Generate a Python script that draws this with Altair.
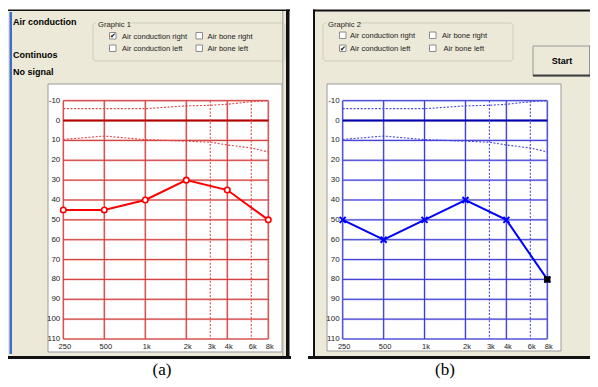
import altair as alt
import pandas as pd

# ---------------- data ----------------
freqs = [250, 500, 1000, 2000, 4000, 8000]
right_ear_db = [45, 45, 40, 30, 35, 50]      # Graphic 1: air conduction right
left_ear_db = [50, 60, 50, 40, 50, 80]       # Graphic 2: air conduction left
grid_db = [-10, 0, 10, 20, 30, 40, 50, 60, 70, 80, 90, 100, 110]
solid_freqs = [250, 500, 1000, 2000, 4000, 8000]
dotted_freqs = [3000, 6000]
tick_freqs = [250, 500, 1000, 2000, 3000, 4000, 6000, 8000]
tick_labels = ["250", "500", "1k", "2k", "3k", "4k", "6k", "8k"]
curve_freqs = [250, 500, 1000, 2000, 3000, 4000, 6000, 8000]
upper_curve_db = [-6, -6, -6, -7.4, -7.7, -8.2, -9.5, -10]
lower_curve_db = [9.5, 7.8, 9.6, 10.4, 10.9, 12.3, 13.8, 15.8]

# ---------------- layout / style ----------------
OFF = 8
SANS = "Liberation Sans"
SERIF = "Liberation Serif"
BEIGE = "#ECE9D8"
Y_TOP, Y_BOT = 100.7 - OFF, 339.0 - OFF
ONE = pd.DataFrame({"k": [0]})


def box(x1, y1, x2, y2, fill="transparent", stroke="transparent", sw=1, r=0):
    return alt.Chart(ONE).mark_rect(
        fill=fill, stroke=stroke, strokeWidth=sw, cornerRadius=r
    ).encode(
        x=alt.value(x1 - OFF), x2=alt.value(x2 - OFF),
        y=alt.value(y1 - OFF), y2=alt.value(y2 - OFF),
    )


def txt(s, x, y, size, bold=False, align="left", font=SANS, color="black", baseline="alphabetic"):
    return alt.Chart(ONE).mark_text(
        text=s, fontSize=size, fontWeight="bold" if bold else "normal",
        align=align, baseline=baseline, font=font, color=color,
    ).encode(x=alt.value(x - OFF), y=alt.value(y - OFF))


def checkbox(x, y, checked):
    layers = [box(x, y, x + 6.5, y + 6.5, fill="white", stroke="#8c8c8c", sw=1)]
    if checked:
        layers.append(txt("\u2714", x + 3.4, y + 3.6, 7, font="DejaVu Sans", align="center", baseline="middle"))
    return layers


def panel(xr, core, light, dark, dotc, values, kind):
    xs = alt.Scale(type="log", domain=[250, 8000], range=xr)
    ys = alt.Scale(domain=[-10, 110], range=[Y_TOP, Y_BOT])
    hdf = pd.DataFrame({"db": grid_db, "f0": 250, "f1": 8000})
    h_enc = dict(x=alt.X("f0:Q", scale=xs, axis=None), x2="f1:Q",
                 y=alt.Y("db:Q", scale=ys, axis=None))
    vdf = pd.DataFrame({"f": solid_freqs, "d0": -10, "d1": 110})
    ddf = pd.DataFrame({"f": dotted_freqs, "d0": -10, "d1": 110})
    v_enc = dict(x=alt.X("f:Q", scale=xs, axis=None),
                 y=alt.Y("d0:Q", scale=ys, axis=None), y2="d1:Q")
    cdf = pd.DataFrame({"f": curve_freqs, "up": upper_curve_db, "lo": lower_curve_db})
    ydf = pd.DataFrame({"db": grid_db, "f": 250, "lab": [str(v) for v in grid_db]})
    xdf = pd.DataFrame({"f": tick_freqs, "lab": tick_labels, "d": 110})
    pdf = pd.DataFrame({"f": freqs, "db": values})

    layers = [
        alt.Chart(hdf).mark_rule(stroke=light, strokeWidth=2.2).encode(**h_enc),
        alt.Chart(vdf).mark_rule(stroke=light, strokeWidth=2.2).encode(**v_enc),
        alt.Chart(hdf).mark_rule(stroke=core, strokeWidth=0.9).encode(**h_enc),
        alt.Chart(vdf).mark_rule(stroke=core, strokeWidth=0.9).encode(**v_enc),
        alt.Chart(hdf).transform_filter("datum.db == 0").mark_rule(stroke=dark, strokeWidth=2).encode(**h_enc),
        alt.Chart(ddf).mark_rule(stroke=dotc, strokeWidth=1.1, strokeDash=[2, 1.6]).encode(**v_enc),
        alt.Chart(cdf).mark_line(stroke=dotc, strokeWidth=1.1, strokeDash=[2, 1.6]).encode(
            x=alt.X("f:Q", scale=xs, axis=None), y=alt.Y("up:Q", scale=ys, axis=None)),
        alt.Chart(cdf).mark_line(stroke=dotc, strokeWidth=1.1, strokeDash=[2, 1.6]).encode(
            x=alt.X("f:Q", scale=xs, axis=None), y=alt.Y("lo:Q", scale=ys, axis=None)),
        alt.Chart(ydf).mark_text(fontSize=8, font=SANS, align="right", baseline="middle", dx=-3, color="#222").encode(
            x=alt.X("f:Q", scale=xs, axis=None), y=alt.Y("db:Q", scale=ys, axis=None), text="lab:N"),
        alt.Chart(xdf).mark_text(fontSize=7.5, font=SANS, align="center", baseline="alphabetic", dx=1.5, dy=10.3, color="#222").encode(
            x=alt.X("f:Q", scale=xs, axis=None), y=alt.Y("d:Q", scale=ys, axis=None), text="lab:N"),
        alt.Chart(pdf).mark_line(stroke=kind["color"], strokeWidth=2).encode(
            x=alt.X("f:Q", scale=xs, axis=None), y=alt.Y("db:Q", scale=ys, axis=None)),
    ]
    if kind["marker"] == "circle":
        layers.append(alt.Chart(pdf).mark_point(shape="circle", filled=False, stroke=kind["color"], fill="white",
                                                 strokeWidth=1.6, size=30, opacity=1).encode(
            x=alt.X("f:Q", scale=xs, axis=None), y=alt.Y("db:Q", scale=ys, axis=None)))
    else:
        layers.append(alt.Chart(pdf).mark_point(shape="M-1,-1L1,1M-1,1L1,-1", filled=False, stroke=kind["color"],
                                                 strokeWidth=2, size=36, opacity=1).encode(
            x=alt.X("f:Q", scale=xs, axis=None), y=alt.Y("db:Q", scale=ys, axis=None)))
        layers.append(alt.Chart(pdf).transform_filter("datum.f == 8000").mark_point(
            shape="square", filled=True, fill="black", size=40, opacity=1).encode(
            x=alt.X("f:Q", scale=xs, axis=None), y=alt.Y("db:Q", scale=ys, axis=None)))
    return alt.layer(*layers)


# ---------------- window chrome ----------------
bg = []
# left window
bg += [box(7, 10, 288, 357, fill=BEIGE)]
bg += [box(48, 84, 282, 352, fill="white", stroke="#9a9a9a", sw=1)]
bg += [box(93, 23, 285, 61, stroke="#cfcdbd", sw=1, r=3)]
bg += [box(96, 19, 129, 27, fill=BEIGE)]
bg += [box(6, 9.5, 290, 11, fill="#111")]
bg += [box(6, 9.5, 7.8, 358, fill="#111"), box(286, 9.5, 289.5, 358, fill="#111")]
bg += [box(282, 11, 283.5, 356, fill="#b8b5a8")]
bg += [box(0, 356, 291, 359, fill="#111")]
bg += [box(9.5, 12, 12, 354, fill="#3a6fd0")]
# right window
bg += [box(314, 10, 598, 357, fill=BEIGE)]
bg += [box(327, 84, 561, 351, fill="white", stroke="#9a9a9a", sw=1)]
bg += [box(323, 23, 513, 61, stroke="#cfcdbd", sw=1, r=3)]
bg += [box(326, 19, 359, 27, fill=BEIGE)]
bg += [box(313, 9.5, 598, 11.5, fill="#111"), box(313, 9.5, 315, 358, fill="#111")]
bg += [box(308, 356, 598, 359, fill="#111")]
bg += [box(590.5, 12, 594, 356, fill="#3a6fd0")]
bg += [box(533, 46, 591, 76, fill=BEIGE, stroke="#9a9a9a", sw=1)]
bg += [box(533, 74.5, 591, 76.5, fill="#404040"), box(589.5, 46, 591.5, 76.5, fill="#404040")]

fg = []
fg += [txt("Air conduction", 13, 25, 9, bold=True)]
fg += [txt("Continuos", 13, 58, 9, bold=True)]
fg += [txt("No signal", 13, 75, 9, bold=True)]
fg += [txt("Graphic 1", 98, 26.5, 7.6, color="#222")]
fg += [txt("Graphic 2", 328, 26.5, 7.6, color="#222")]
fg += [txt("Start", 562, 64, 9, bold=True, align="center")]
fg += checkbox(109.5, 32.5, True) + checkbox(196, 32.5, False)
fg += checkbox(109.5, 45, False) + checkbox(196, 45, False)
fg += [txt("Air conduction right", 122, 38.5, 7.6, color="#222"),
       txt("Air bone  right", 207.5, 38.5, 7.6, color="#222"),
       txt("Air conduction left", 122, 50.7, 7.6, color="#222"),
       txt("Air bone left", 207.5, 50.7, 7.6, color="#222")]
fg += checkbox(339.5, 32, False) + checkbox(429.5, 32, False)
fg += checkbox(339.5, 45, True) + checkbox(429.5, 45, False)
fg += [txt("Air conduction right", 350, 38, 7.6, color="#222"),
       txt("Air bone right", 442, 38, 7.6, color="#222"),
       txt("Air conduction left", 350, 50.7, 7.6, color="#222"),
       txt("Air bone left", 443.5, 50.7, 7.6, color="#222")]
fg += [txt("(a)", 162, 374.5, 17, font=SERIF, align="center"),
       txt("(b)", 445, 374.5, 17, font=SERIF, align="center")]

left = panel([63.3 - OFF, 268.3 - OFF], "#cc2a2a", "#f3c2c2", "#b00000", "#e04848", right_ear_db,
             {"color": "#ff0000", "marker": "circle"})
right = panel([342.7 - OFF, 547.3 - OFF], "#2a2ad0", "#c4c4f4", "#0000a8", "#4848e0", left_ear_db,
              {"color": "#0000ff", "marker": "x"})

chart = alt.layer(*bg, left, right, *fg).resolve_scale(
    x="independent", y="independent"
).properties(
    width=582, height=371, padding=0, autosize="none", background="white"
).configure_view(stroke=None)

chart.save("out.html", embed_options={"renderer": "svg", "actions": False})
